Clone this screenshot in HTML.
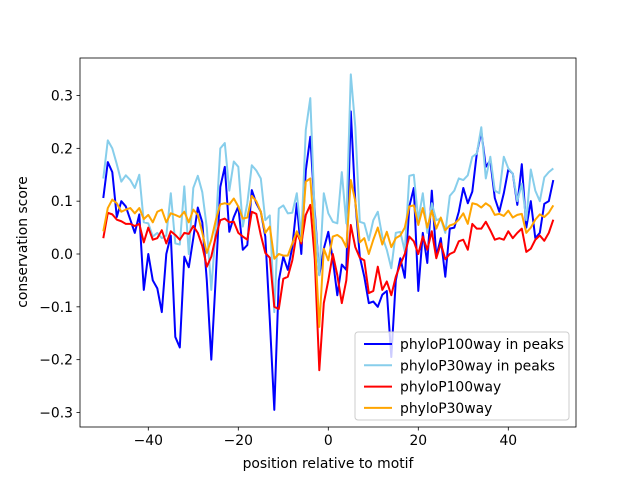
<!DOCTYPE html>
<html><head><meta charset="utf-8"><style>
html,body{margin:0;padding:0;background:#fff;}
svg{display:block;font-family:"DejaVu Sans","Liberation Sans",sans-serif;}
</style></head><body>
<svg id="chart" width="640" height="480" viewBox="0 0 640 480"></svg>
<script>
const positions = Array.from({length:101},(_,i)=>i-50);
const xTicks = [-40,-20,0,20,40];
const yTicks = [-0.3,-0.2,-0.1,0.0,0.1,0.2,0.3];
const seriesNames = ["phyloP100way in peaks","phyloP30way in peaks","phyloP100way","phyloP30way"];
const seriesColors = ["#0000ff","#87ceeb","#ff0000","#ffa500"];
const blueVals = [0.106,0.174,0.155,0.07,0.10,0.09,0.065,0.04,0.075,-0.068,0.0,-0.05,-0.065,-0.11,0.0,0.035,-0.157,-0.177,-0.005,-0.025,0.03,0.088,0.06,-0.05,
-0.2,-0.043,0.127,0.165,0.042,0.07,0.09,0.008,0.017,0.121,0.096,0.08,0.033,-0.125,-0.295,-0.05,-0.005,-0.03,0.013,0.096,0.0,0.158,0.222,
0.08,-0.04,0.01,0.042,-0.01,-0.078,-0.02,-0.03,0.27,0.1,-0.005,-0.043,-0.093,-0.09,-0.1,-0.077,-0.07,-0.195,-0.05,-0.008,-0.045,0.09,0.125,-0.07,
0.04,-0.017,0.12,-0.005,0.03,-0.043,0.048,0.05,0.08,0.125,0.096,0.118,0.19,0.232,0.165,0.177,0.106,0.08,0.115,0.16,0.152,0.093,0.17,0.05,0.1,0.03,0.04,0.095,0.1,0.14];
const skyVals = [0.143,0.215,0.2,0.17,0.137,0.149,0.14,0.125,0.15,0.06,0.058,0.033,0.04,0.03,0.035,0.115,0.02,0.018,0.128,0.0,0.125,0.148,0.117,0.05,
-0.068,0.05,0.2,0.21,0.12,0.175,0.165,0.052,0.096,0.168,0.158,0.143,0.064,0.073,-0.11,0.086,0.092,0.077,0.078,0.115,0.033,0.235,0.295,
0.07,-0.04,0.115,0.077,0.061,0.058,0.155,0.058,0.34,0.24,0.061,0.058,0.026,0.064,0.08,0.033,0.008,-0.027,0.04,0.042,0.005,0.148,0.15,0.064,
0.115,0.04,0.096,0.064,0.067,0.04,0.11,0.12,0.143,0.14,0.149,0.184,0.19,0.24,0.143,0.184,0.12,0.115,0.184,0.162,0.152,0.1,0.133,0.064,0.16,0.12,0.1,0.145,0.155,0.162];
const redVals = [0.03,0.078,0.075,0.065,0.062,0.057,0.057,0.053,0.057,0.022,0.05,0.027,0.03,0.045,0.02,0.043,0.036,0.027,0.04,0.038,0.053,0.04,0.015,-0.024,
-0.005,0.033,0.064,0.067,0.06,0.061,0.04,0.033,0.027,0.08,0.076,0.036,0.002,-0.007,-0.1,-0.104,-0.047,-0.043,-0.012,0.04,0.02,0.074,0.093,
-0.01,-0.22,-0.093,-0.05,0.0,-0.04,-0.093,-0.05,0.055,0.013,-0.007,-0.012,-0.074,-0.07,-0.024,-0.068,-0.052,-0.078,-0.043,-0.02,0.0,0.033,0.024,0.0,
0.033,0.008,0.043,-0.008,0.02,-0.01,0.0,0.004,0.024,0.027,0.008,0.057,0.048,0.048,0.061,0.045,0.027,0.03,0.027,0.043,0.03,0.04,0.048,0.004,0.01,0.027,0.035,0.025,0.04,0.065];
const orangeVals = [0.043,0.087,0.103,0.096,0.08,0.084,0.087,0.077,0.087,0.066,0.074,0.06,0.08,0.084,0.06,0.077,0.074,0.07,0.08,0.06,0.084,0.074,0.04,0.002,
0.027,0.064,0.094,0.096,0.094,0.105,0.09,0.067,0.069,0.11,0.1,0.08,0.04,0.052,-0.009,0.0,-0.003,-0.003,0.02,0.043,0.024,0.137,0.143,
0.03,-0.138,0.01,-0.012,0.033,0.036,0.03,0.013,0.14,0.1,0.022,0.03,0.0,0.027,0.05,0.018,0.042,0.013,0.03,0.035,0.05,0.09,0.092,0.055,
0.087,0.05,0.082,0.048,0.069,0.045,0.054,0.057,0.065,0.077,0.057,0.096,0.094,0.088,0.096,0.09,0.074,0.076,0.072,0.082,0.069,0.074,0.076,0.04,0.05,0.065,0.075,0.07,0.078,0.092];

const NS="http://www.w3.org/2000/svg";
const svg=document.getElementById('chart');
const L=80,R=576,T=58,B=427;
function xs(v){return 328.3+v*4.5;}
function ys(v){return 254-v*528.3;}
function mk(tag,attrs,parent){const e=document.createElementNS(NS,tag);for(const k in attrs)e.setAttribute(k,attrs[k]);(parent||svg).appendChild(e);return e;}

const series=[blueVals,skyVals,redVals,orangeVals];
const plot=mk('g',{});


series.forEach((vals,si)=>{
  const d=vals.map((v,i)=>(i?'L':'M')+xs(positions[i]).toFixed(2)+' '+ys(v).toFixed(2)).join(' ');
  const p=mk('path',{d:d,fill:'none',stroke:seriesColors[si],'stroke-width':2,'stroke-linejoin':'round'},plot);
  
  
});
const frame=mk('rect',{x:L,y:T,width:R-L,height:B-T,fill:'none',stroke:'#000','stroke-width':0.8});



xTicks.forEach(t=>{
  const x=xs(t);
  const tk=mk('line',{x1:x,x2:x,y1:B,y2:B+3.5,stroke:'#000','stroke-width':0.8});
  
  
  const tx=mk('text',{x:x,y:B+18,'text-anchor':'middle','font-size':'13.9px',fill:'#000'});
  tx.textContent=(t<0?'\u2212'+Math.abs(t):String(t));
  
  
});
yTicks.forEach(t=>{
  const y=ys(t);
  const tk=mk('line',{x1:L-3.5,x2:L,y1:y,y2:y,stroke:'#000','stroke-width':0.8});
  
  
  const tx=mk('text',{x:L-7,y:y+5,'text-anchor':'end','font-size':'13.9px',fill:'#000'});
  tx.textContent=(t<0?'\u2212'+Math.abs(t).toFixed(1):t.toFixed(1));
  
  
});
const xl=mk('text',{x:328,y:468,'text-anchor':'middle','font-size':'13.9px',fill:'#000'});
xl.textContent='position relative to motif';


const yl=mk('text',{x:0,y:0,'text-anchor':'middle','font-size':'13.9px',fill:'#000',transform:'translate(27,242) rotate(-90)'});
yl.textContent='conservation score';



const lg=mk('g',{});


mk('rect',{x:355,y:332,width:214,height:88,rx:3,fill:'#fff','fill-opacity':0.8,stroke:'#ccc','stroke-width':1},lg);
seriesNames.forEach((n,i)=>{
  const y=344+i*21.3;
  const g=mk('g',{},lg);
  
  
  mk('line',{x1:364,x2:392,y1:y,y2:y,stroke:seriesColors[i],'stroke-width':2},g);
  const t=mk('text',{x:400,y:y+5,'font-size':'13.9px',fill:'#000'},g);
  t.textContent=n;
});
</script>
</body></html>
